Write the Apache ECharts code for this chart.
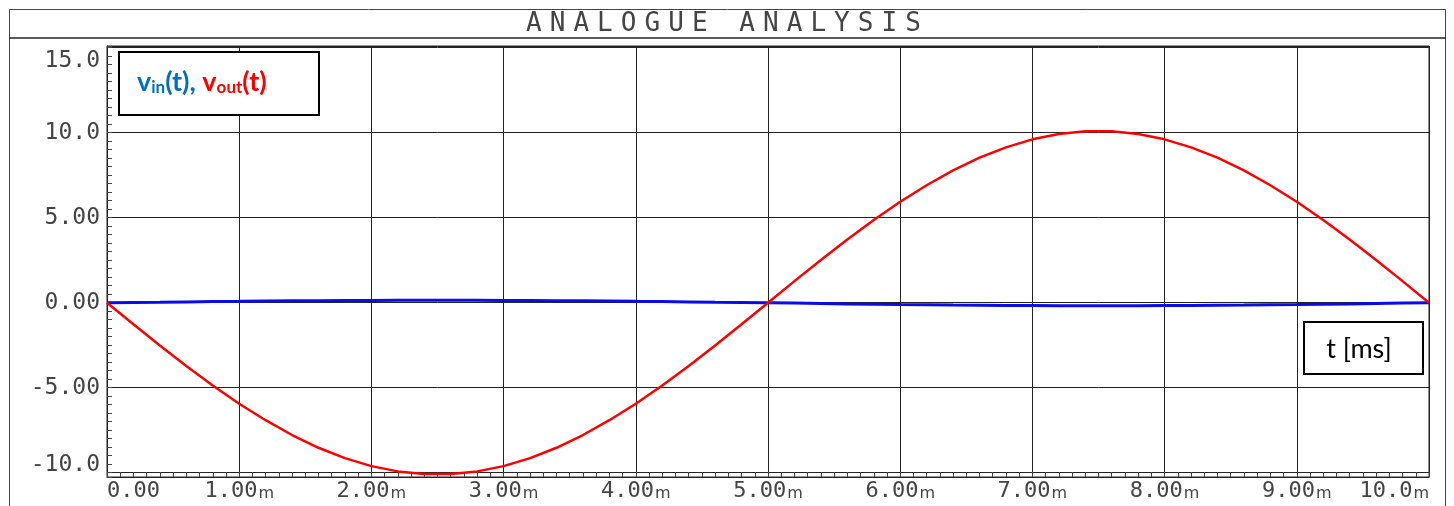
<!DOCTYPE html>
<html lang="en">

<head>
    <meta charset="UTF-8">
    <meta name="viewport" content="width=device-width, initial-scale=1.0">
    <title>Analogue Analysis</title>
    <style>
        html, body {
            margin: 0;
            padding: 0;
            background: #ffffff;
        }

        #main {
            width: 1454px;
            height: 506px;
        }
    </style>
</head>

<body>

<div id="main"></div>

<script src="https://cdn.jsdelivr.net/npm/echarts@6/dist/echarts.min.js"></script>
<script>
    // time in ms
    var timeMs = [0, 0.2, 0.4, 0.6, 0.8, 1.0, 1.2, 1.4, 1.6, 1.8,
        2.0, 2.2, 2.4, 2.6, 2.8, 3.0, 3.2, 3.4, 3.6, 3.8,
        4.0, 4.2, 4.4, 4.6, 4.8, 5.0, 5.2, 5.4, 5.6, 5.8,
        6.0, 6.2, 6.4, 6.6, 6.8, 7.0, 7.2, 7.4, 7.6, 7.8,
        8.0, 8.2, 8.4, 8.6, 8.8, 9.0, 9.2, 9.4, 9.6, 9.8, 10.0];

    // v_in(t)
    var vin = [0, 0.02, 0.03, 0.05, 0.07, 0.08, 0.10, 0.11, 0.12, 0.13,
        0.13, 0.14, 0.14, 0.14, 0.14, 0.13, 0.13, 0.12, 0.11, 0.10,
        0.08, 0.07, 0.05, 0.03, 0.02, 0, -0.02, -0.04, -0.07, -0.09,
        -0.11, -0.12, -0.14, -0.15, -0.16, -0.17, -0.18, -0.18, -0.18, -0.18,
        -0.17, -0.16, -0.15, -0.14, -0.12, -0.11, -0.09, -0.07, -0.04, -0.02, 0];

    // v_out(t)
    var vout = [0, -1.27, -2.51, -3.72, -4.87, -5.94, -6.91, -7.78, -8.53, -9.14,
        -9.61, -9.92, -10.08, -10.08, -9.92, -9.61, -9.14, -8.53, -7.78, -6.91,
        -5.94, -4.87, -3.72, -2.51, -1.27, 0, 1.27, 2.51, 3.72, 4.87,
        5.94, 6.91, 7.78, 8.53, 9.14, 9.61, 9.92, 10.08, 10.08, 9.92,
        9.61, 9.14, 8.53, 7.78, 6.91, 5.94, 4.87, 3.72, 2.51, 1.27, 0];

    var xTickValues = [0, 1, 2, 3, 4, 5, 6, 7, 8, 9, 10];
    var xTickLabels = ['0.00', '1.00m', '2.00m', '3.00m', '4.00m', '5.00m',
        '6.00m', '7.00m', '8.00m', '9.00m', '10.0m'];
    var yTickValues = [-10, -5, 0, 5, 10, 15];
    var yTickLabels = ['-10.0', '-5.00', '0.00', '5.00', '10.0', '15.0'];

    var titleText = 'ANALOGUE ANALYSIS';

    var monoFont = '"DejaVu Sans Mono", "Liberation Mono", monospace';

    function pairs(xs, ys) {
        var out = [];
        for (var i = 0; i < xs.length; i++) {
            out.push([xs[i], ys[i]]);
        }
        return out;
    }

    // title letters are spread out like the plotter font
    var titleGraphics = [];
    var titleLeft = 522, titleSlot = 23.7;
    for (var i = 0; i < titleText.length; i++) {
        titleGraphics.push({
            type: 'text',
            x: titleLeft + titleSlot * (i + 0.5),
            y: 24,
            silent: true,
            style: {
                text: titleText.charAt(i),
                fontFamily: monoFont,
                fontSize: 26,
                fill: '#444',
                align: 'center',
                verticalAlign: 'middle'
            }
        });
    }

    var dom = document.getElementById('main');
    var myChart = echarts.init(dom);
    var option = {
        animation: false,
        backgroundColor: '#ffffff',
        grid: {
            left: 107,
            top: 46,
            right: 25,
            bottom: 29,
            show: true,
            borderColor: '#222',
            borderWidth: 1
        },
        xAxis: {
            type: 'value',
            min: 0,
            max: 10,
            interval: 1,
            axisLine: {show: true, onZero: false, lineStyle: {color: '#222', width: 1}},
            axisTick: {show: true, inside: true, length: 5, lineStyle: {color: '#444'}},
            minorTick: {show: true, splitNumber: 10, length: 5, lineStyle: {color: '#444'}},
            splitLine: {show: true, lineStyle: {color: '#222', width: 1}},
            axisLabel: {
                margin: 3,
                alignMinLabel: 'left',
                alignMaxLabel: 'right',
                formatter: function (value) {
                    var idx = xTickValues.indexOf(Math.round(value * 1000) / 1000);
                    if (idx < 0) return '';
                    var s = xTickLabels[idx];
                    if (s.charAt(s.length - 1) === 'm') {
                        return '{n|' + s.slice(0, -1) + '}{m|m}';
                    }
                    return '{n|' + s + '}';
                },
                rich: {
                    n: {fontFamily: monoFont, fontSize: 22, color: '#444'},
                    m: {fontFamily: '"DejaVu Sans", sans-serif', fontSize: 16, color: '#444', padding: [5, 0, 0, 1]}
                }
            }
        },
        yAxis: [{
            type: 'value',
            min: -10.25,
            max: 15.1,
            splitNumber: 5,
            axisLine: {show: true, onZero: false, lineStyle: {color: '#222', width: 1}},
            axisTick: {show: false},
            splitLine: {show: true, lineStyle: {color: '#222', width: 1}},
            axisLabel: {
                margin: 7,
                formatter: function (value) {
                    var idx = yTickValues.indexOf(Math.round(value * 1000) / 1000);
                    if (idx < 0) return '';
                    var s = yTickLabels[idx];
                    if (idx === yTickValues.length - 1) return '{top|' + s + '}';
                    if (idx === 0) return '{bot|' + s + '}';
                    return '{n|' + s + '}';
                },
                rich: {
                    n: {fontFamily: monoFont, fontSize: 23, color: '#444'},
                    top: {fontFamily: monoFont, fontSize: 23, color: '#444', padding: [26, 0, 0, 0]},
                    bot: {fontFamily: monoFont, fontSize: 23, color: '#444', padding: [0, 0, 16, 0]}
                }
            }
        }, {
            // small tick marks every 0.5 V
            type: 'value',
            position: 'left',
            min: -10.25,
            max: 15.1,
            splitNumber: 50,
            axisLine: {show: false, onZero: false},
            axisTick: {show: true, inside: true, length: 5, lineStyle: {color: '#444'}},
            splitLine: {show: false},
            axisLabel: {show: false}
        }],
        series: [
            {
                name: 'vin',
                type: 'line',
                data: pairs(timeMs, vin),
                showSymbol: false,
                lineStyle: {color: '#0a0aee', width: 3},
                itemStyle: {color: '#0a0aee'}
            },
            {
                name: 'vout',
                type: 'line',
                data: pairs(timeMs, vout),
                showSymbol: false,
                lineStyle: {color: '#ff0000', width: 2.5},
                itemStyle: {color: '#ff0000'}
            }
        ],
        graphic: [
            // outer frame and title band
            {
                type: 'rect',
                shape: {x: 9.5, y: 9.5, width: 1436, height: 520},
                silent: true,
                style: {fill: 'none', stroke: '#444', lineWidth: 1}
            },
            {
                type: 'line',
                shape: {x1: 9, y1: 38, x2: 1446, y2: 38},
                silent: true,
                style: {stroke: '#222', lineWidth: 1.5}
            },
            {
                type: 'group',
                children: titleGraphics
            },
            // v_in / v_out label box
            {
                type: 'rect',
                shape: {x: 119, y: 52, width: 200, height: 63},
                z: 10,
                style: {fill: '#ffffff', stroke: '#000', lineWidth: 2}
            },
            {
                type: 'text',
                x: 137,
                y: 82,
                z: 11,
                style: {
                    text: '{b|v}{bs|in}{b|(t), }{r|v}{rs|out}{r|(t)}',
                    verticalAlign: 'middle',
                    rich: {
                        b: {fontFamily: 'Lato', fontWeight: 'bold', fontSize: 27, fill: '#0070c0'},
                        bs: {fontFamily: 'Lato', fontWeight: 'bold', fontSize: 17, fill: '#0070c0', padding: [12, 0, 0, 0]},
                        r: {fontFamily: 'Lato', fontWeight: 'bold', fontSize: 27, fill: '#ff0000'},
                        rs: {fontFamily: 'Lato', fontWeight: 'bold', fontSize: 17, fill: '#ff0000', padding: [12, 0, 0, 0]}
                    }
                }
            },
            // axis unit box
            {
                type: 'rect',
                shape: {x: 1304, y: 322, width: 119, height: 52},
                z: 10,
                style: {fill: '#ffffff', stroke: '#000', lineWidth: 2}
            },
            {
                type: 'text',
                x: 1359,
                y: 349,
                z: 11,
                style: {
                    text: 't [ms]',
                    fontFamily: 'Lato',
                    fontSize: 27,
                    fill: '#000',
                    align: 'center',
                    verticalAlign: 'middle'
                }
            }
        ]
    };
    myChart.setOption(option);
</script>
</body>

</html>
